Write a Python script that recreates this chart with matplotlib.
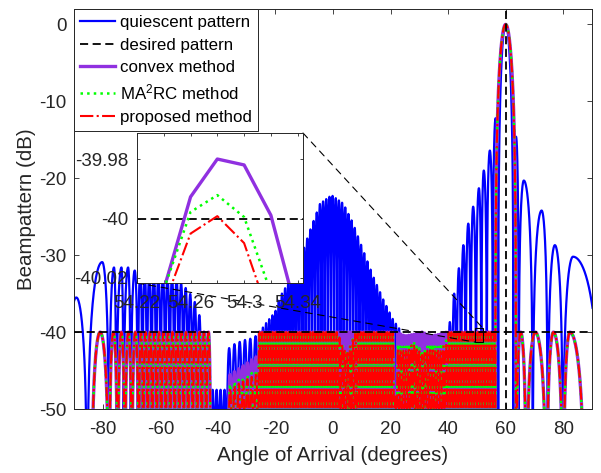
import numpy as np
import matplotlib
matplotlib.use("Agg")
import matplotlib.pyplot as plt
from matplotlib.patches import Rectangle, ConnectionPatch

plt.rcParams['font.family'] = ['Liberation Sans', 'DejaVu Sans']
plt.rcParams['mathtext.fontset'] = 'custom'
plt.rcParams['mathtext.rm'] = 'Liberation Sans'
plt.rcParams['mathtext.it'] = 'Liberation Sans:italic'
plt.rcParams['mathtext.bf'] = 'Liberation Sans:bold'
plt.rcParams['axes.unicode_minus'] = False

# ------------------------------------------------------------------ data
labels = ['quiescent pattern', 'desired pattern', 'convex method',
          'MA$^2$RC method', 'proposed method']
x_ticks = [-80, -60, -40, -20, 0, 20, 40, 60, 80]
y_ticks = [-50, -40, -30, -20, -10, 0]

look_angle = 60.0
desired_level = -40.0

# quiescent pattern: main lobe nulls
q_main_nulls = [57.4, 62.7]
# quiescent: individually read sidelobes (nulls, peak angle, peak dB)
q_lobe_nulls_l = [-93.0, -85.4, -77.8, -75.3, -72.8, -70.3, -67.8]
q_lobe_peak_l = [-89.2, -80.2, -76.1, -73.5, -71.2, -68.9]
q_lobe_db_l = [-35.5, -30.9, -31.6, -31.6, -31.6, -32.0]
q_lobe_nulls_m = [39.9, 41.4, 42.95, 44.5, 46.1, 47.85, 49.7, 51.55, 53.45, 55.55, 57.4]
q_lobe_peak_m = [40.6, 42.1, 43.75, 45.3, 47.0, 48.7, 50.7, 52.4, 54.5, 56.5]
q_lobe_db_m = [-38.7, -35.0, -31.7, -28.7, -25.9, -23.7, -21.3, -19.0, -16.4, -12.2]
q_lobe_nulls_r = [62.7, 64.5, 69.4, 74.6, 79.9, 93.2]
q_lobe_peak_r = [63.6, 66.3, 72.5, 77.1, 83.4]
q_lobe_db_r = [-14.6, -20.3, -24.2, -28.7, -30.2]
# quiescent: dense lobe trains (start, end, number of lobes) + envelope
q_train_start = [-67.8, -42.5, -37.0, -26.0, 23.5]
q_train_end = [-42.5, -37.0, -26.0, 23.5, 39.9]
q_train_count = [16, 4, 6, 45, 11]
q_env_ang = [-67.8, -55.0, -50.6, -48.3, -45.9, -44.2, -42.5, -41.9, -37.5, -36.7,
             -35.0, -32.6, -30.4, -28.0, -26.0, -23.6, -21.9, -20.1, -18.4, -14.9,
             -11.5, -8.0, -4.5, -0.5, 3.6, 7.0, 10.5, 14.0, 17.5, 20.9, 23.3, 25.0,
             38.0, 39.9]
q_env_db = [-32.3, -32.8, -34.5, -35.8, -38.4, -41.0, -44.0, -47.5, -47.5, -42.3,
            -41.7, -41.3, -41.0, -40.8, -40.3, -39.0, -38.2, -37.4, -35.4, -33.2,
            -30.6, -26.8, -23.3, -22.2, -23.3, -25.9, -29.4, -32.8, -35.8, -38.4, -39.7, -43.0,
            -43.0, -41.0]

# adapted patterns: shared lobe structure
a_main_nulls = [56.4, 63.6]
a_lobe_nulls_l = [-92.0, -84.0, -77.8, -74.8, -72.3, -69.9, -67.5]
a_lobe_peak_l = [-88.0, -80.9, -76.3, -73.55, -71.1, -68.7]
a_lobe_db_l = [-56.0, -40.0, -40.0, -40.0, -40.0, -40.0]
a_lobe_nulls_r = [63.6, 67.2, 74.2, 80.0, 87.5, 93.0]
a_lobe_peak_r = [65.2, 70.3, 76.6, 82.3, 90.0]
a_lobe_db_r = [-40.0, -40.0, -40.0, -40.0, -58.0]
a_train_start = [-67.5, -42.5, -26.0]
a_train_end = [-42.5, -26.0, 56.4]
a_train_count = [16, 11, 89]
# adapted envelopes (peak level of the dense lobes)
a_env_ang = [-90.0, -43.0, -42.2, -37.2, -36.8, -26.6, -26.2, 1.5, 4.7, 8.0,
             21.0, 21.5, 22.0, 25.0, 28.0, 31.0, 34.0, 37.0, 39.5, 40.0, 90.0]
conv_env = [-40.0, -40.0, -55.0, -55.0, -45.8, -43.2, -40.0, -40.0, -40.0, -40.0,
            -40.0, -52.0, -40.0, -40.5, -40.3, -40.0, -40.5, -40.3, -40.0, -40.0, -40.0]
ma2rc_env = [-40.0, -40.0, -56.0, -56.0, -47.0, -45.0, -40.0, -40.0, -42.8, -40.0,
             -40.0, -52.0, -41.5, -42.0, -41.2, -42.5, -41.5, -42.0, -41.0, -40.0, -40.0]
prop_env = [-40.0, -40.0, -57.0, -57.0, -47.5, -45.5, -40.0, -40.0, -43.0, -40.0,
            -40.0, -52.0, -42.0, -42.5, -41.5, -43.0, -42.0, -42.5, -41.3, -40.0, -40.0]

# zoomed inset values
inset_ang = [54.22, 54.24, 54.26, 54.28, 54.30, 54.32, 54.34]
conv_inset = [-40.07, -40.024, -39.9927, -39.9799, -39.9819, -39.9989, -40.033]
ma2rc_inset = [-40.07, -40.024, -39.9978, -39.9921, -39.9995, -40.025, -40.07]
prop_inset = [-40.07, -40.0294, -40.0051, -39.9992, -40.0083, -40.0346, -40.07]
inset_xticks = [54.22, 54.26, 54.30, 54.34]
inset_xticklabels = ['54.22', '54.26', '54.3', '54.34']
inset_yticks = [-40.02, -40.0, -39.98]
inset_yticklabels = ['-40.02', '-40', '-39.98']
zoom_box = [49.3, -41.3, 2.8, 1.8]

# ------------------------------------------------------------------ helpers
FLOOR = 1e-6


def lobe(a, p, b, pk, n=40):
    xl = np.linspace(a, p, n)
    xr = np.linspace(p, b, n)[1:]
    sl = np.sin(0.5 * np.pi * (xl - a) / (p - a))
    sr = np.sin(0.5 * np.pi * (b - xr) / (b - p))
    x = np.concatenate([xl, xr])
    s = np.concatenate([sl, sr])
    return x, pk + 20 * np.log10(np.maximum(s, FLOOR))


def main_lobe(a, p, b, n=120):
    x = np.linspace(a, b, n)
    z = np.where(x < p, (x - p) / (p - a), (x - p) / (b - p))
    s = np.abs(np.sinc(z))
    return x, 20 * np.log10(np.maximum(s, FLOOR))


def explicit(nulls, peaks, dbs):
    segs = []
    for i in range(len(peaks)):
        segs.append(lobe(nulls[i], peaks[i], nulls[i + 1], dbs[i]))
    return segs


def trains(starts, ends, counts, env_a, env_d):
    segs = []
    for s, e, c in zip(starts, ends, counts):
        nl = np.linspace(s, e, c + 1)
        for i in range(c):
            a, b = nl[i], nl[i + 1]
            p = 0.5 * (a + b)
            pk = np.interp(p, env_a, env_d)
            segs.append(lobe(a, p, b, pk, n=24))
    return segs


def assemble(segs):
    segs = sorted(segs, key=lambda t: t[0][0])
    x = np.concatenate([s[0] for s in segs])
    y = np.concatenate([s[1] for s in segs])
    return x, y


q_segs = (explicit(q_lobe_nulls_l, q_lobe_peak_l, q_lobe_db_l)
          + trains(q_train_start, q_train_end, q_train_count, q_env_ang, q_env_db)
          + explicit(q_lobe_nulls_m, q_lobe_peak_m, q_lobe_db_m)
          + [main_lobe(q_main_nulls[0], look_angle, q_main_nulls[1])]
          + explicit(q_lobe_nulls_r, q_lobe_peak_r, q_lobe_db_r))
qx, qy = assemble(q_segs)


def adapted(env):
    segs = (explicit(a_lobe_nulls_l, a_lobe_peak_l, a_lobe_db_l)
            + trains(a_train_start, a_train_end, a_train_count, a_env_ang, env)
            + [main_lobe(a_main_nulls[0], look_angle, a_main_nulls[1])]
            + explicit(a_lobe_nulls_r, a_lobe_peak_r, a_lobe_db_r))
    return assemble(segs)


cx, cy = adapted(conv_env)
mx, my = adapted(ma2rc_env)
px_, py_ = adapted(prop_env)

# ------------------------------------------------------------------ plot
TXT = '#262626'
BLUE = '#0000FF'
PURPLE = '#9030E0'
GREEN = '#00FF00'
RED = '#FF0000'

fig = plt.figure(figsize=(6.01, 4.73), dpi=100)
ax = fig.add_axes([74 / 601, 64 / 473, 518 / 601, 400 / 473])

l_q, = ax.plot(qx, qy, color=BLUE, lw=1.6, label=labels[0], zorder=2)
l_d, = ax.plot([-90, 90], [desired_level, desired_level], color='k', lw=1.3,
               dashes=(4.5, 2.5), label=labels[1], zorder=6)
ax.plot([look_angle, look_angle], [-60, 5], color='k', lw=1.3, dashes=(4.5, 2.5), zorder=6)
l_c, = ax.plot(cx, cy, color=PURPLE, lw=2.4, label=labels[2], zorder=3)
l_m, = ax.plot(mx, my, color=GREEN, lw=1.8, ls=':', label=labels[3], zorder=4)
l_p, = ax.plot(px_, py_, color=RED, lw=1.5, ls='-.', label=labels[4], zorder=5)

ax.set_xlim(-90, 90)
ax.set_ylim(-50, 2)
ax.set_xticks(x_ticks)
ax.set_yticks(y_ticks)
ax.tick_params(direction='in', top=True, right=True, length=3.7, width=0.6,
               labelsize=13.5, colors=TXT)
ax.tick_params(axis='x', pad=8.5)
ax.tick_params(axis='y', pad=5.5)
for sp in ax.spines.values():
    sp.set_linewidth(0.7)
    sp.set_color(TXT)
ax.set_xlabel('Angle of Arrival (degrees)', fontsize=14.8, color=TXT)
ax.set_ylabel('Beampattern (dB)', fontsize=14.8, color=TXT)
ax.xaxis.set_label_coords(0.5, -0.093)
ax.yaxis.set_label_coords(-0.074, 0.5)

ax.add_patch(Rectangle((zoom_box[0], zoom_box[1]), zoom_box[2], zoom_box[3],
                       fill=False, edgecolor='k', lw=0.8, zorder=7))

leg = ax.legend(handles=[l_q, l_d, l_c, l_m, l_p], loc='upper left',
                bbox_to_anchor=(0, 1), borderaxespad=0, fancybox=False,
                framealpha=1, edgecolor=TXT, fontsize=12.2, handlelength=2.07,
                handletextpad=0.3, borderpad=0.36, labelspacing=0.44)
leg.get_frame().set_linewidth(0.7)
leg.set_zorder(10)

# inset
axi = fig.add_axes([137 / 601, (473 - 283) / 473, 166 / 601, 150 / 473])
axi.set_zorder(11)
axi.plot([54.0, 54.5], [desired_level, desired_level], color='k', lw=1.3, dashes=(4.5, 2.5))
axi.plot(inset_ang, conv_inset, color=PURPLE, lw=2.4)
axi.plot(inset_ang, ma2rc_inset, color=GREEN, lw=1.8, ls=':')
axi.plot(inset_ang, prop_inset, color=RED, lw=1.5, ls='-.')
axi.set_xlim(54.22, 54.344)
axi.set_ylim(-40.0218, -39.9711)
axi.set_xticks(inset_xticks)
axi.set_xticklabels(inset_xticklabels)
axi.set_xticks([54.24, 54.28, 54.32], minor=True)
axi.set_yticks(inset_yticks)
axi.set_yticklabels(inset_yticklabels)
axi.tick_params(which='both', direction='in', top=True, right=True, length=2.0, width=0.6,
                labelsize=13.5, colors=TXT)
axi.tick_params(axis='x', pad=8.5)
axi.tick_params(axis='y', pad=6.5)
for sp in axi.spines.values():
    sp.set_linewidth(0.7)
    sp.set_color(TXT)

for xa, xb in [((1, 1), (zoom_box[0] + zoom_box[2], zoom_box[1] + zoom_box[3])),
               ((0, 0), (zoom_box[0], zoom_box[1]))]:
    con = ConnectionPatch(xyA=xa, coordsA=axi.transAxes, xyB=xb, coordsB=ax.transData,
                          color='k', lw=0.8, linestyle=(0, (6, 5)))
    con.set_zorder(8)
    fig.add_artist(con)

fig.savefig('out.png', dpi=100)
